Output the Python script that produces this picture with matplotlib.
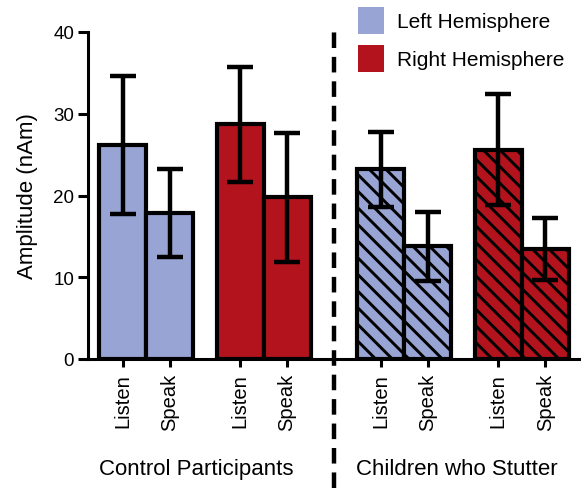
import matplotlib
matplotlib.use("Agg")
import matplotlib.pyplot as plt
from matplotlib.patches import Patch

plt.rcParams["font.family"] = ["Liberation Sans", "DejaVu Sans"]
plt.rcParams["hatch.linewidth"] = 2.1

# data
conditions = ["Listen", "Speak", "Listen", "Speak", "Listen", "Speak", "Listen", "Speak"]
means = [26.2, 17.9, 28.7, 19.8, 23.2, 13.8, 25.6, 13.5]
errors = [8.45, 5.4, 7.05, 7.9, 4.6, 4.2, 6.8, 3.8]
hemisphere = ["L", "L", "R", "R", "L", "L", "R", "R"]
stutter = [False, False, False, False, True, True, True, True]
groups = ["Control Participants", "Children who Stutter"]
positions = [0, 1, 2.5, 3.5, 5.5, 6.5, 8, 9]

blue = "#98a4d4"
red = "#b3131c"

fig = plt.figure(figsize=(5.81, 4.89), dpi=100)
ax = fig.add_axes([88 / 581, 1 - 360 / 489, 492 / 581, 327 / 489])

for x, m, e, h, s in zip(positions, means, errors, hemisphere, stutter):
    ax.bar(x, m, width=1.0, color=blue if h == "L" else red,
           edgecolor="black", linewidth=3, hatch="\\\\" if s else None, zorder=2)
    ax.errorbar(x, m, yerr=e, color="black", elinewidth=3.2, capsize=9.5,
                capthick=3.2, zorder=3)

ax.set_xlim(-0.74, 9.74)
ax.set_ylim(0, 40)
ax.set_yticks([0, 10, 20, 30, 40])
ax.set_xticks(positions)
ax.set_xticklabels(conditions, rotation=90, fontsize=14.5)
ax.tick_params(axis="y", labelsize=13.5, width=2.2, length=7, pad=3)
ax.tick_params(axis="x", width=2.2, length=6, pad=4)
ax.set_ylabel("Amplitude (nAm)", fontsize=16, labelpad=11)

for side in ["top", "right"]:
    ax.spines[side].set_visible(False)
for side in ["left", "bottom"]:
    ax.spines[side].set_linewidth(2.2)

# dashed separator between groups
ax.axvline(4.5, ymin=-0.395, ymax=1.01, color="black", linewidth=3.2,
           linestyle=(0, (3.5, 2)), clip_on=False)

ax.text(1.56, -0.335, groups[0], transform=ax.get_xaxis_transform(),
        ha="center", va="center", fontsize=16)
ax.text(7.12, -0.335, groups[1], transform=ax.get_xaxis_transform(),
        ha="center", va="center", fontsize=16)

handles = [Patch(facecolor=blue, label="Left Hemisphere"),
           Patch(facecolor=red, label="Right Hemisphere")]
fig.legend(handles=handles, loc="upper left", bbox_to_anchor=(358 / 581, 1 - 8 / 489),
           frameon=False, fontsize=15, handlelength=1.25, handleheight=1.6,
           handletextpad=0.6, labelspacing=0.55, borderpad=0, borderaxespad=0)

fig.savefig("out.png", dpi=100)
